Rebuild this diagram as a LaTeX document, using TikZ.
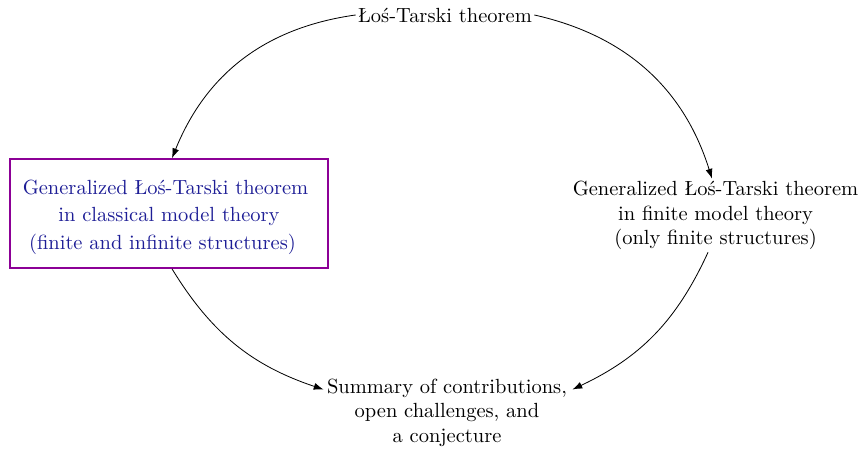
\documentclass[tikz,border=0pt]{standalone}
\usetikzlibrary{arrows.meta,calc}
\definecolor{boxtext}{RGB}{30,30,150}
\definecolor{boxframe}{RGB}{140,0,150}
\begin{document}
\begin{tikzpicture}[x=0.488pt,y=0.488pt,
  plain/.style={align=center,inner sep=1pt},
  framed/.style={draw=boxframe,line width=0.8pt,text=boxtext,align=center,
    font=\fontsize{10}{13.4}\selectfont,minimum width=155.2pt,minimum height=53.2pt,inner sep=0pt},
  link/.style={-{Latex[length=4.8pt,width=3.4pt]},line width=0.4pt}]
\useasboundingbox (0,0) rectangle (861,449);

\node[plain,anchor=base] (los) at (445,427) {Łoś-Tarski theorem};
\node[framed] (cl) at (169,235.5)
  {\rule{0pt}{10.4pt}Generalized Łoś-Tarski theorem\hspace*{3.4pt}\\
   in classical model theory\hspace*{11pt}\\
   (finite and infinite structures)\hspace*{6.4pt}};
\node[plain] (fm) at (715.5,233.5)
  {Generalized Łoś-Tarski theorem\\ in finite model theory\hspace*{6pt}\\ (only finite structures)};
\node[plain] (sum) at (447,36.5)
  {Summary of contributions,\\ open challenges, and\\ a conjecture};

% arrows meet the summary at the height of its first line
\coordinate (sumw) at ($(sum.west)+(-1,23)$);
\coordinate (sume) at ($(sum.east)+(3,23)$);

\draw[link] (los.west) to[bend right=30] ($(cl.north)+(3,0)$);
\draw[link] (los.east) to[bend left=30] ($(fm.north)+(-3.5,0)$);
\draw[link] ($(cl.south)+(3,0)$) to[bend right=20] (sumw);
\draw[link] ($(fm.south)+(-7.5,0)$) to[bend left=20] (sume);
\end{tikzpicture}
\end{document}
